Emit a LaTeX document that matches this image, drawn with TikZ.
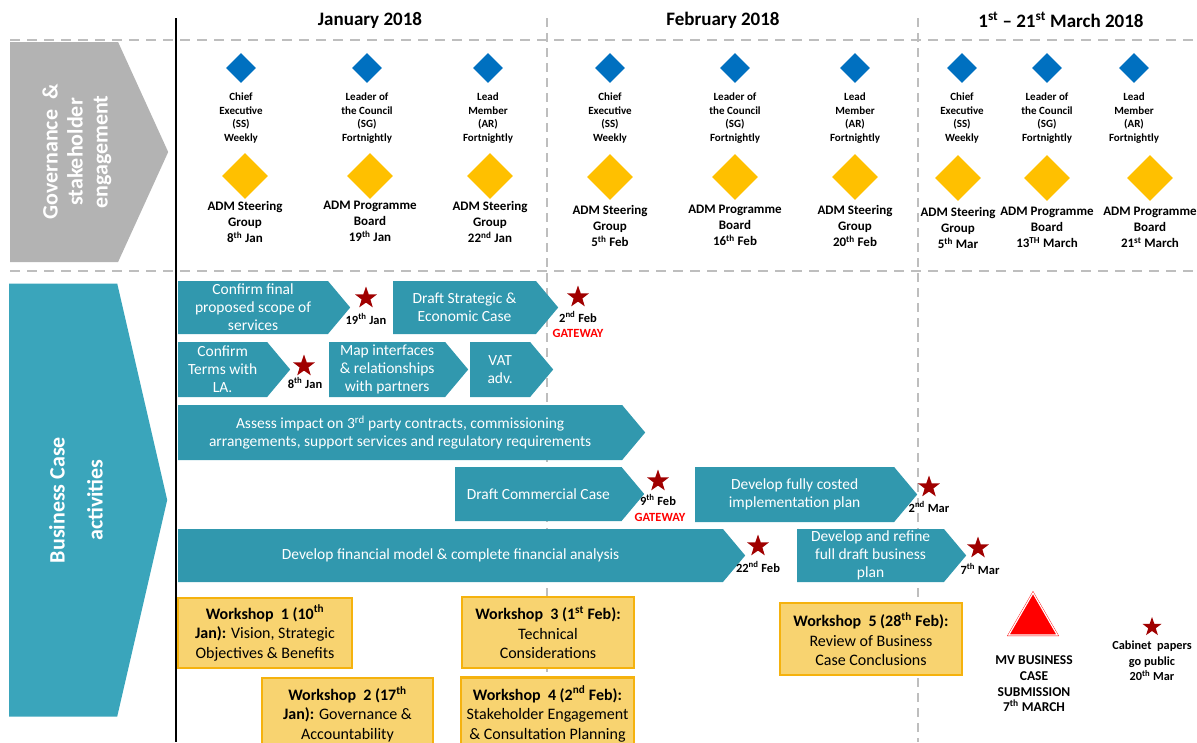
\documentclass[tikz,border=0pt]{standalone}
\usepackage{fontspec}
\setmainfont{Carlito}
\usetikzlibrary{positioning,shapes.geometric,shapes.symbols}

\definecolor{govgrey}{RGB}{179,179,179}
\definecolor{labteal}{RGB}{58,165,187}
\definecolor{taskteal}{RGB}{49,152,174}
\definecolor{whoblue}{RGB}{0,112,192}
\definecolor{meetgold}{RGB}{255,192,0}
\definecolor{starred}{RGB}{160,0,0}
\definecolor{wsfill}{RGB}{248,211,112}
\definecolor{wsline}{RGB}{245,178,14}
\definecolor{gridgrey}{RGB}{190,190,190}

\begin{document}
\begin{tikzpicture}[x=1pt, y=-1pt,
sidelabel/.style={signal, signal to=east, inner sep=0pt, anchor=west},
sidetext/.style={rotate=90, text=white, align=center, font=\fontsize{22}{25}\selectfont\bfseries},
hdr/.style={font=\fontsize{19}{22}\selectfont\bfseries},
whodiamond/.style={diamond, fill=whoblue, minimum width=30pt, minimum height=30pt, inner sep=0pt},
meetdiamond/.style={diamond, fill=meetgold, minimum width=46pt, minimum height=46pt, inner sep=0pt},
whotxt/.style={font=\fontsize{11}{13.9}\selectfont\bfseries, align=center, inner sep=0pt},
meettxt/.style={font=\fontsize{13}{16}\selectfont\bfseries, align=center, inner sep=0pt},
task/.style={signal, signal to=east, signal pointer angle=100, fill=taskteal, text=white, align=center, font=\fontsize{15.5}{18}\selectfont, inner sep=0pt, anchor=west},
ms/.style={star, star points=5, star point ratio=2.5, fill=starred, minimum size=23pt, inner sep=0pt},
datetxt/.style={font=\fontsize{12.5}{15}\selectfont\bfseries, inner sep=0pt},
gate/.style={font=\fontsize{12.5}{15}\selectfont\bfseries, text=red, inner sep=0pt},
ws/.style={rectangle, fill=wsfill, draw=wsline, line width=2.5pt, align=center, font=\fontsize{16}{19.5}\selectfont, inner sep=0pt},
griddash/.style={gridgrey, line width=2.5pt, dash pattern=on 10pt off 7pt},
monthdash/.style={gridgrey, line width=1.5pt, dash pattern=on 9pt off 6pt},
]
\useasboundingbox (0,0) rectangle (1197,742);

%Grid
\draw[monthdash] (547,18) -- (547,742);
\draw[monthdash] (918,18) -- (918,742);
\draw[griddash] (10,40) -- (1197,40);
\draw[griddash] (10,271) -- (1197,271);
\draw[black, line width=2pt] (176,18) -- (176,742);

%Months
\node[hdr] (jan) at (370,20) {January 2018};
\node[hdr] (feb) at (723,20) {February 2018};
\node[hdr] (mar) at (1061,20) {1\textsuperscript{st} -- 21\textsuperscript{st} March 2018};

%Side labels
\node[sidelabel, fill=govgrey, signal pointer angle=131, minimum width=158pt, minimum height=220pt] (gov) at (10,152) {};
\node[sidetext] (govtxt) at (77,152) {Governance \ \&\\stakeholder\\engagement};
\node[sidelabel, fill=labteal, signal pointer angle=154, minimum width=158pt, minimum height=433pt] (bc) at (9,500) {};
\node[sidetext] (bctxt) at (76,500) {Business Case\\[13pt]activities};

%Governance
\node[whodiamond] (bd1) at (241,68) {};
\node[whodiamond] (bd2) at (367,68) {};
\node[whodiamond] (bd3) at (488,68) {};
\node[whodiamond] (bd4) at (610,68) {};
\node[whodiamond] (bd5) at (735,68) {};
\node[whodiamond] (bd6) at (855,68) {};
\node[whodiamond] (bd7) at (962,68) {};
\node[whodiamond] (bd8) at (1047,68) {};
\node[whodiamond] (bd9) at (1134,68) {};
\node[whotxt] (bt1) [below=9pt of bd1] {Chief\\Executive\\(SS)\\Weekly};
\node[whotxt] (bt2) [below=9pt of bd2] {Leader of\\the Council\\(SG)\\Fortnightly};
\node[whotxt] (bt3) [below=9pt of bd3] {Lead\\Member\\(AR)\\Fortnightly};
\node[whotxt] (bt4) [below=9pt of bd4] {Chief\\Executive\\(SS)\\Weekly};
\node[whotxt] (bt5) [below=9pt of bd5] {Leader of\\the Council\\(SG)\\Fortnightly};
\node[whotxt] (bt6) [below=9pt of bd6] {Lead\\Member\\(AR)\\Fortnightly};
\node[whotxt] (bt7) [below=9pt of bd7] {Chief\\Executive\\(SS)\\Weekly};
\node[whotxt] (bt8) [below=9pt of bd8] {Leader of\\the Council\\(SG)\\Fortnightly};
\node[whotxt] (bt9) [below=9pt of bd9] {Lead\\Member\\(AR)\\Fortnightly};

\node[meetdiamond] (yd1) at (245,176) {};
\node[meetdiamond] (yd2) at (370,176) {};
\node[meetdiamond] (yd3) at (490,176) {};
\node[meetdiamond] (yd4) at (610,177) {};
\node[meetdiamond] (yd5) at (735,177) {};
\node[meetdiamond] (yd6) at (855,177) {};
\node[meetdiamond] (yd7) at (958,178) {};
\node[meetdiamond] (yd8) at (1047,178) {};
\node[meetdiamond] (yd9) at (1150,178) {};
\node[meettxt] (yt1) [below=2pt of yd1] {ADM Steering\\Group\\8\textsuperscript{th} Jan};
\node[meettxt] (yt2) [below=2pt of yd2] {ADM Programme\\Board\\19\textsuperscript{th} Jan};
\node[meettxt] (yt3) [below=2pt of yd3] {ADM Steering\\Group\\22\textsuperscript{nd} Jan};
\node[meettxt] (yt4) [below=5pt of yd4] {ADM Steering\\Group\\5\textsuperscript{th} Feb};
\node[meettxt] (yt5) [below=5pt of yd5] {ADM Programme\\Board\\16\textsuperscript{th} Feb};
\node[meettxt] (yt6) [below=5pt of yd6] {ADM Steering\\Group\\20\textsuperscript{th} Feb};
\node[meettxt] (yt7) [below=6pt of yd7] {ADM Steering\\Group\\5\textsuperscript{th} Mar};
\node[meettxt] (yt8) [below=6pt of yd8] {ADM Programme\\Board\\13\textsuperscript{TH} March};
\node[meettxt] (yt9) [below=6pt of yd9] {ADM Programme\\Board\\21\textsuperscript{st} March};

%Business case activities
\node[task, minimum width=172pt, minimum height=53pt] (scope) at (178,307.5) {Confirm final\\proposed scope of\\services};
\node[task, minimum width=165pt, minimum height=53pt] (strat) at (393,307.5) {Draft Strategic \&\\Economic Case};
\node[task, minimum width=112pt, minimum height=55pt] (terms) at (178,369.5) {Confirm\\Terms with\\LA.};
\node[task, minimum width=139pt, minimum height=55pt] (mapif) at (329,369.5) {Map interfaces\\\& relationships\\with partners};
\node[task, minimum width=83pt, minimum height=55pt] (vat) at (470,369.5) {VAT\\adv.};
\node[task, minimum width=467pt, minimum height=55pt] (assess) at (178,432.5) {Assess impact on 3\textsuperscript{rd} party contracts, commissioning\\arrangements, support services and regulatory requirements};
\node[task, minimum width=189pt, minimum height=54pt] (comm) at (455,494) {Draft Commercial Case};
\node[task, minimum width=222pt, minimum height=55pt] (impl) at (695,494.5) {Develop fully costed\\implementation plan};
\node[task, minimum width=567pt, minimum height=53pt] (fin) at (178,555.5) {Develop financial model \& complete financial analysis};
\node[task, minimum width=169pt, minimum height=53pt] (plan) at (797,555.5) {Develop and refine\\full draft business\\plan};

%Milestones
\node[ms] (st1) at (366,298) {};
\node[datetxt] (dt1) at (366,319) {19\textsuperscript{th} Jan};
\node[ms] (st2) at (578,297) {};
\node[datetxt] (dt2) at (578,317) {2\textsuperscript{nd} Feb};
\node[gate] (gw1) at (578,333) {GATEWAY};
\node[ms] (st3) at (304,366) {};
\node[datetxt] (dt3) at (305,383) {8\textsuperscript{th} Jan};
\node[ms] (st4) at (658,481) {};
\node[datetxt] (dt4) at (658,500) {9\textsuperscript{th} Feb};
\node[gate] (gw2) at (660,517) {GATEWAY};
\node[ms] (st5) at (929,487) {};
\node[datetxt] (dt5) at (929,507) {2\textsuperscript{nd} Mar};
\node[ms] (st6) at (758,546) {};
\node[datetxt] (dt6) at (758,567) {22\textsuperscript{nd} Feb};
\node[ms] (st7) at (978,548) {};
\node[datetxt] (dt7) at (980,569) {7\textsuperscript{th} Mar};

%Workshops
\node[ws, minimum width=174pt, minimum height=70pt] (ws1) at (265,633) {\textbf{Workshop\ \ 1 (10\textsuperscript{th}}\\\textbf{Jan):} Vision, Strategic\\Objectives \& Benefits};
\node[ws, minimum width=171pt, minimum height=72pt] (ws2) at (347.5,714) {\textbf{Workshop\ \ 2 (17\textsuperscript{th}}\\\textbf{Jan):} Governance \&\\Accountability};
\node[ws, minimum width=172pt, minimum height=71pt] (ws3) at (548,632.5) {\textbf{Workshop\ \ 3 (1\textsuperscript{st} Feb):}\\Technical\\Considerations};
\node[ws, minimum width=173pt, minimum height=73pt] (ws4) at (547.5,714) {\textbf{Workshop\ \ 4 (2\textsuperscript{nd} Feb):}\\Stakeholder Engagement\\\& Consultation Planning};
\node[ws, minimum width=182pt, minimum height=72pt] (ws5) at (871,639) {\textbf{Workshop\ \ 5 (28\textsuperscript{th} Feb):}\\Review of Business\\Case Conclusions};

%Submission
\node[regular polygon, regular polygon sides=3, fill=red, draw=red, double=white, double distance=1.2pt, minimum size=56pt, inner sep=0pt] (sub) at (1033,621) {};
\node[font=\fontsize{13.5}{15.6}\selectfont\bfseries, align=center, inner sep=0pt] (subtxt) at (1034,684) {MV BUSINESS\\CASE\\SUBMISSION\\7\textsuperscript{th} MARCH};
\node[ms, minimum size=20pt] (st8) at (1152,627) {};
\node[font=\fontsize{12.3}{15.5}\selectfont\bfseries, align=center, inner sep=0pt] (cab) at (1152,661) {Cabinet\ \ papers\\go public\\20\textsuperscript{th} Mar};

\end{tikzpicture}
\end{document}
